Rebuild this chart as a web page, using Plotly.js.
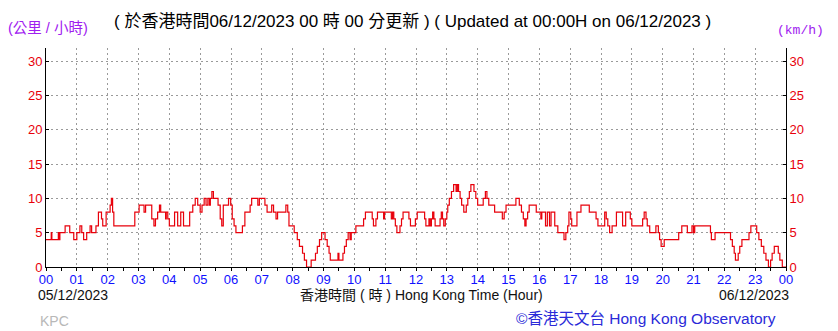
<!DOCTYPE html>
<html><head><meta charset="utf-8">
<script src="https://cdn.plot.ly/plotly-3.0.1.min.js"></script>
<style>body{margin:0;background:#fff}#chart{width:838px;height:331px}</style>
</head><body><div id="chart"></div>
<script>
// time in hours since 05/12/2023 00:00 (step changes)
const times = [0.00,0.17,0.19,0.40,0.43,0.45,0.62,0.77,0.90,1.00,1.10,1.16,1.22,1.32,1.43,1.48,1.62,1.70,1.80,1.84,1.95,2.08,2.12,2.16,2.20,
2.88,3.02,3.18,3.23,3.43,3.50,3.55,3.62,3.68,3.72,3.88,3.90,3.95,4.00,4.17,4.27,4.37,4.46,4.66,4.76,4.84,4.92,5.00,5.06,5.13,5.19,5.25,5.30,5.33,5.38,5.43,5.58,5.65,5.70,5.75,5.92,5.99,
6.04,6.10,6.16,6.37,6.45,6.62,6.67,6.87,6.92,7.10,7.17,7.32,7.38,7.46,7.51,7.78,7.84,7.88,8.05,8.15,8.22,8.32,8.38,8.45,8.60,8.74,8.80,8.87,8.94,9.05,9.12,9.18,9.22,9.47,9.50,9.63,9.68,9.74,9.80,9.86,9.90,
10.05,10.30,10.36,10.58,10.62,10.70,10.75,10.95,10.98,11.20,11.24,11.28,11.33,11.38,11.48,11.53,11.58,11.77,11.82,11.98,12.04,12.28,12.32,12.42,12.46,12.50,12.54,12.58,12.62,12.78,12.82,12.86,12.90,12.95,
13.00,13.03,13.08,13.15,13.22,13.30,13.34,13.38,13.43,13.48,13.55,13.63,13.68,13.73,13.78,13.88,13.94,14.00,14.18,14.25,14.30,14.36,14.55,14.80,14.86,14.92,15.24,15.35,15.42,15.48,15.53,15.57,15.62,15.67,15.90,
16.05,16.08,16.20,16.26,16.33,16.38,16.50,16.60,16.80,16.86,16.92,16.96,17.02,17.05,17.22,17.35,17.62,17.84,17.90,18.12,18.17,18.22,18.28,18.36,18.50,18.70,18.80,18.95,19.00,19.35,19.40,19.46,19.50,19.58,19.78,19.86,19.90,19.95,
20.05,20.52,20.62,20.80,20.95,21.00,21.04,21.55,21.58,21.70,22.20,22.26,22.32,22.36,22.45,22.50,22.57,22.80,22.86,23.05,23.12,23.20,23.28,23.35,23.43,23.50,23.55,23.62,23.75,23.80,23.88,24.00];
// 10-minute mean wind speed (km/h)
const speeds = [4,5,4,5,4,5,6,5,4,5,6,5,4,5,6,5,6,8,7,6,8,9,10,8,6,
8,9,8,9,7,6,7,8,9,8,7,8,7,6,8,6,8,6,8,9,10,9,8,9,10,9,10,9,10,11,10,9,7,6,9,10,9,
7,6,5,6,8,9,10,9,10,9,8,9,8,7,8,9,8,6,5,4,3,2,1,0,1,2,3,4,5,4,3,2,1,2,1,2,3,4,5,4,5,
6,7,8,7,6,7,8,7,8,7,8,7,6,5,6,7,8,7,6,7,8,7,6,7,6,7,8,7,6,7,8,7,6,7,
8,9,10,11,12,11,12,11,10,9,8,9,10,11,12,11,10,9,10,11,10,9,8,7,8,9,10,9,8,7,6,7,8,9,8,
7,8,6,8,6,8,6,5,4,5,6,8,7,6,8,9,8,7,6,8,7,6,5,6,8,6,8,7,6,7,8,7,6,5,6,5,4,3,
4,5,6,5,6,5,6,5,4,5,4,3,2,1,2,3,4,5,6,5,4,3,2,1,0,1,2,3,2,1,0,0];
const hourTicks = [0,1,2,3,4,5,6,7,8,9,10,11,12,13,14,15,16,17,18,19,20,21,22,23,24];
const hourLabels = ["00","01","02","03","04","05","06","07","08","09","10","11","12","13","14","15","16","17","18","19","20","21","22","23","00"];
const speedTicks = [0,5,10,15,20,25,30];

const F = '"Liberation Sans", Arial, "Noto Sans CJK TC", sans-serif';
const traces = [
  {x: times, y: speeds, type: 'scatter', mode: 'lines', line: {shape: 'hv', color: '#e8000b', width: 1.2}, hoverinfo: 'skip'},
  {x: times, y: speeds, type: 'scatter', mode: 'lines', yaxis: 'y2', line: {shape: 'hv', color: 'rgba(0,0,0,0)', width: 0}, hoverinfo: 'skip'}
];
const ann = (text, x, y, xa, size, color, family) => ({text, x, y, xref: 'paper', yref: 'paper', xanchor: xa, yanchor: 'middle', showarrow: false, font: {size, color, family: family || F}});
const layout = {
  width: 838, height: 331,
  margin: {l: 46, r: 52, t: 48, b: 64},
  paper_bgcolor: '#fff', plot_bgcolor: '#fff',
  showlegend: false,
  xaxis: {range: [0, 24], tickvals: hourTicks, ticktext: hourLabels, tickfont: {size: 13, color: '#1010ff', family: F},
    showgrid: true, gridcolor: '#9a9a9a', griddash: '2px,3px', gridwidth: 1, showline: true, linecolor: '#000', linewidth: 1,
    ticks: '', zeroline: false, fixedrange: true,
    minor: {dtick: 0.5, tick0: 0, ticks: 'outside', ticklen: 3, tickcolor: '#000', showgrid: false}},
  yaxis: {range: [0, 31.9], tickvals: speedTicks, tickfont: {size: 13, color: '#e8000b', family: F},
    showgrid: true, gridcolor: '#9a9a9a', griddash: '2px,3px', gridwidth: 1, showline: true, linecolor: '#000', linewidth: 1,
    ticks: 'inside', ticklen: 3, tickcolor: '#000', zeroline: false, fixedrange: true},
  yaxis2: {range: [0, 31.9], tickvals: speedTicks, overlaying: 'y', side: 'right', tickfont: {size: 13, color: '#e8000b', family: F},
    showgrid: false, showline: true, linecolor: '#000', linewidth: 1, ticks: 'inside', ticklen: 3, tickcolor: '#000', zeroline: false, fixedrange: true},
  annotations: [
    ann('(公里 / 小時)', -0.054, 1.091, 'left', 14.5, '#a020f0'),
    ann('( 於香港時間06/12/2023 00 時 00 分更新 ) ( Updated at 00:00H on 06/12/2023 )', 0.495, 1.119, 'center', 17, '#000'),
    ann('(km/h)', 1.019, 1.082, 'center', 13, '#a020f0', '"Liberation Mono", "Courier New", monospace'),
    ann('05/12/2023', -0.014, -0.128, 'left', 14, '#111'),
    ann('香港時間 ( 時 ) Hong Kong Time (Hour)', 0.507, -0.128, 'center', 14, '#111'),
    ann('06/12/2023', 1.007, -0.128, 'right', 14, '#111'),
    ann('KPC', -0.011, -0.247, 'left', 14, '#b8b8b8'),
    ann('©香港天文台 Hong Kong Observatory', 0.989, -0.233, 'right', 15.5, '#2a2ad8')
  ]
};
Plotly.newPlot('chart', traces, layout, {staticPlot: true, displayModeBar: false});
</script></body></html>
